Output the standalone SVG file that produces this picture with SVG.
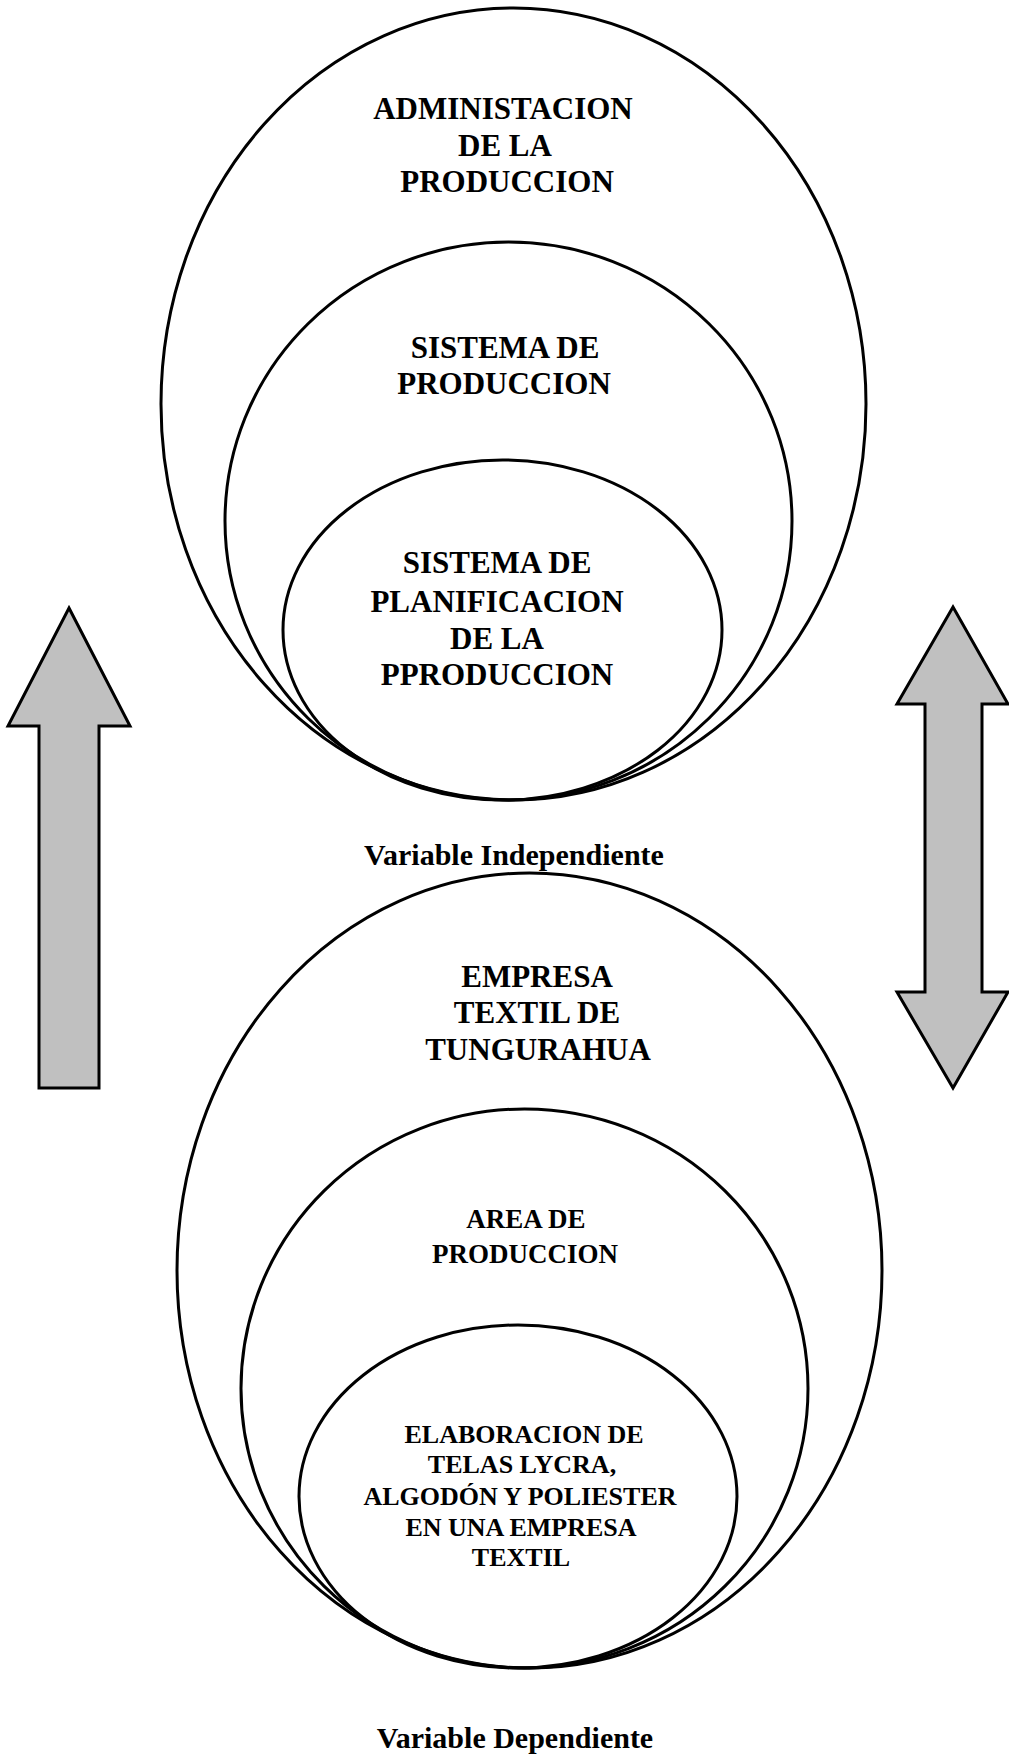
<svg xmlns="http://www.w3.org/2000/svg" width="1009" height="1758" viewBox="0 0 1009 1758">
  <style>
    .ring { fill: none; stroke: #000; stroke-width: 3; }
    .arrow { fill: #c0c0c0; stroke: #000; stroke-width: 3; stroke-linejoin: miter; }
    text { font-family: "Liberation Serif", "Times New Roman", serif; font-weight: bold; fill: #000; text-anchor: middle; }
    .big { font-size: 31px; }
    .mid { font-size: 27px; }
    .small { font-size: 26px; }
    .caption { font-size: 30px; }
  </style>
  <rect width="1009" height="1758" fill="#fff"/>

  <!-- Independent variable: nested sets -->
  <g id="administracion">
    <ellipse class="ring" cx="513.5" cy="404" rx="352.5" ry="396"/>
    <text class="big" x="503" y="119">ADMINISTACION</text>
    <text class="big" x="505" y="156">DE LA</text>
    <text class="big" x="507" y="192">PRODUCCION</text>
  </g>
  <g id="sistema-produccion">
    <ellipse class="ring" cx="508.5" cy="521" rx="283.5" ry="279"/>
    <text class="big" x="505" y="358">SISTEMA DE</text>
    <text class="big" x="504" y="394">PRODUCCION</text>
  </g>
  <g id="sistema-planificacion">
    <ellipse class="ring" cx="502.5" cy="630" rx="219.5" ry="170"/>
    <text class="big" x="497" y="573">SISTEMA DE</text>
    <text class="big" x="497" y="612">PLANIFICACION</text>
    <text class="big" x="497" y="649">DE LA</text>
    <text class="big" x="497" y="685">PPRODUCCION</text>
  </g>
  <g id="label-independiente">
    <text class="caption" x="514" y="865">Variable Independiente</text>
  </g>

  <!-- Dependent variable: nested sets -->
  <g id="empresa-textil">
    <ellipse class="ring" cx="529.5" cy="1270.5" rx="352.5" ry="397.5"/>
    <text class="big" x="537" y="987">EMPRESA</text>
    <text class="big" x="537" y="1023">TEXTIL DE</text>
    <text class="big" x="538" y="1060">TUNGURAHUA</text>
  </g>
  <g id="area-produccion">
    <ellipse class="ring" cx="524.5" cy="1388.5" rx="283.5" ry="279.5"/>
    <text class="mid" x="526" y="1228">AREA DE</text>
    <text class="mid" x="525" y="1263">PRODUCCION</text>
  </g>
  <g id="elaboracion-telas">
    <ellipse class="ring" cx="518" cy="1496.5" rx="219" ry="171.5"/>
    <text class="small" x="524" y="1443">ELABORACION DE</text>
    <text class="small" x="522" y="1473">TELAS LYCRA,</text>
    <text class="small" x="520" y="1505">ALGODÓN Y POLIESTER</text>
    <text class="small" x="521" y="1536">EN UNA EMPRESA</text>
    <text class="small" x="521" y="1566">TEXTIL</text>
  </g>
  <g id="label-dependiente">
    <text class="caption" x="515" y="1748">Variable Dependiente</text>
  </g>

  <!-- Block arrows -->
  <g id="connectors">
    <polygon class="arrow" points="69,608 130,726 99,726 99,1088 39,1088 39,726 8,726"/>
    <polygon class="arrow" points="953,607 1008,704 982,704 982,992 1008,992 953,1088 897,992 925,992 925,704 897,704"/>
  </g>
</svg>
